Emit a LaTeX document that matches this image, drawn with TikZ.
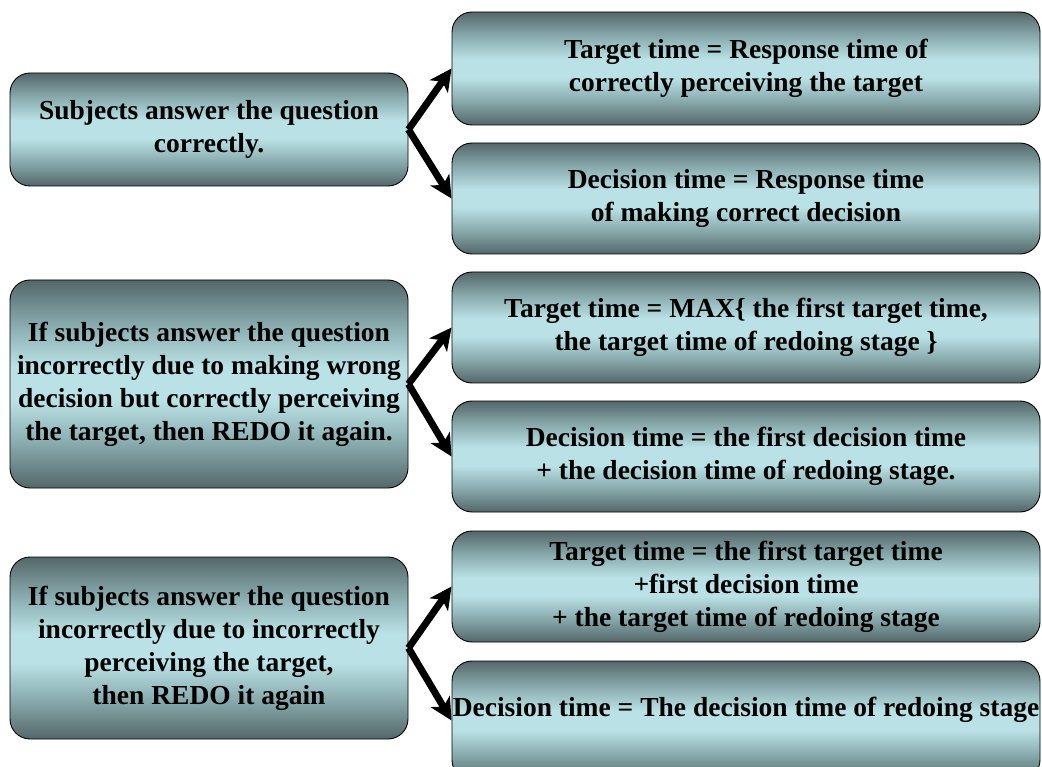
\documentclass[tikz,border=0pt]{standalone}
\usepackage{fontspec}
\setmainfont{Liberation Serif}
\usetikzlibrary{arrows.meta}
\definecolor{dk}{RGB}{84,103,105}
\definecolor{md}{RGB}{138,172,175}
\definecolor{lt}{RGB}{186,226,230}
\pgfdeclareverticalshading{band}{100bp}{color(0bp)=(dk); color(25bp)=(dk); color(36bp)=(md); color(46bp)=(lt); color(54bp)=(lt); color(64bp)=(md); color(75bp)=(dk); color(100bp)=(dk)}
\tikzset{
  box/.style={draw=black, line width=0.9pt, rounded corners=20pt, shading=band,
    inner sep=0pt, align=center, font=\bfseries\fontsize{27.5}{33}\selectfont},
  lbox/.style={box, minimum width=398pt},
  rbox/.style={box, minimum width=588pt},
  lbl/.style={inner sep=0pt, align=center, font=\bfseries\fontsize{27.5}{33}\selectfont},
  arr/.style={line width=7pt, -{Stealth[length=22pt,width=22pt,inset=6pt]}}
}
\begin{document}
\begin{tikzpicture}[x=1pt,y=-1pt]
\useasboundingbox (0,0) rectangle (1042,767);
\clip (0,0) rectangle (1042,767);
\node[lbox, minimum height=113pt] (l1) at (209,129.5) {Subjects answer the question\\correctly.};
\node[lbox, minimum height=208pt] (l2) at (209,384) {If subjects answer the question\\incorrectly due to making wrong\\decision but correctly perceiving\\the target, then REDO it again.};
\node[lbox, minimum height=182pt] (l3) at (209,648) {If subjects answer the question\\incorrectly due to incorrectly\\perceiving the target,\\then REDO it again};
\node[rbox, minimum height=113pt] (r1) at (746,68.5) {Target time = Response time of\\correctly perceiving the target};
\node[rbox, minimum height=111pt] (r2) at (746,198.5) {Decision time = Response time\\of making correct decision};
\node[rbox, minimum height=111pt] (r3) at (746,327.5) {Target time = MAX\{ the first target time,\\the target time of redoing stage \}};
\node[rbox, minimum height=111pt] (r4) at (746,456.5) {Decision time = the first decision time\\+ the decision time of redoing stage.};
\node[rbox, minimum height=111pt] (r5) at (746,586.5) {Target time = the first target time\\+first decision time\\+ the target time of redoing stage};
\node[rbox, minimum height=119pt] (r6) at (746,720.5) {};
\node[lbl] (r6t) at (746,710) {Decision time = The decision time of redoing stage};
\draw[arr] (l1.east) -- (r1.west);
\draw[arr] (l1.east) -- (r2.west);
\draw[arr] (l2.east) -- (r3.west);
\draw[arr] (l2.east) -- (r4.west);
\draw[arr] (l3.east) -- (r5.west);
\draw[arr] (l3.east) -- (r6.west);
\end{tikzpicture}
\end{document}
